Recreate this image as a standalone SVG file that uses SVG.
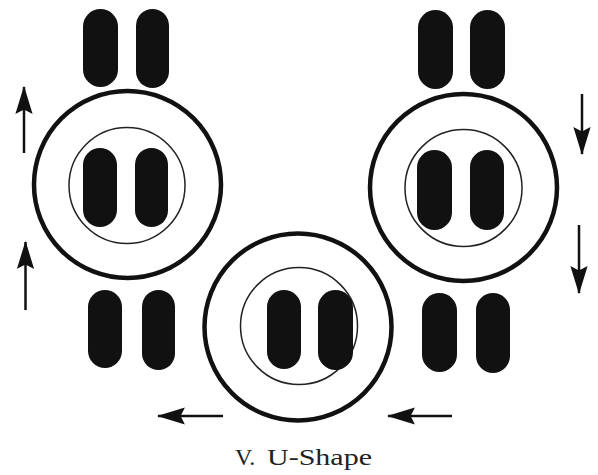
<svg xmlns="http://www.w3.org/2000/svg" width="598" height="475" viewBox="0 0 598 475">
<style>
.outer{fill:none;stroke:#111;stroke-width:4.5}
.inner{fill:none;stroke:#222;stroke-width:1.5}
.pill{fill:#111}
.arr{stroke:#111;stroke-width:2.5;fill:none}
.lbl{font-family:"Liberation Serif","DejaVu Serif",serif;font-size:24px;fill:#222}
</style>
<defs>
<marker id="ah" markerUnits="userSpaceOnUse" markerWidth="28" markerHeight="18" viewBox="0 0 26 16" refX="25" refY="8" orient="auto">
<path d="M0,0 L26,8 L0,16 L4,8 Z" fill="#111"/>
</marker>
</defs>
<rect width="598" height="475" fill="#fff"/>
<g id="circle-left">
<circle class="outer" cx="127.5" cy="184.5" r="93.5"/>
<circle class="inner" cx="127" cy="185.5" r="58"/>
<rect class="pill" x="83" y="148" width="34" height="79" rx="17"/>
<rect class="pill" x="135" y="148" width="33" height="79" rx="16.5"/>
</g>
<g id="circle-right">
<circle class="outer" cx="463.5" cy="187.5" r="93.5"/>
<circle class="inner" cx="463.5" cy="188" r="58.5"/>
<rect class="pill" x="417" y="150" width="35" height="80" rx="17.5"/>
<rect class="pill" x="470" y="150" width="34" height="80" rx="17"/>
</g>
<g id="circle-bottom">
<circle class="outer" cx="298" cy="327" r="93.5"/>
<circle class="inner" cx="299" cy="326" r="58.5"/>
<rect class="pill" x="267" y="290" width="34" height="79" rx="17"/>
<rect class="pill" x="318" y="290" width="35" height="80" rx="17.5"/>
</g>
<g id="pills-top-left">
<rect class="pill" x="83" y="9" width="35" height="78" rx="17.5"/>
<rect class="pill" x="136" y="9" width="33" height="79" rx="16.5"/>
</g>
<g id="pills-top-right">
<rect class="pill" x="418" y="10" width="35" height="79" rx="17.5"/>
<rect class="pill" x="470" y="10" width="35" height="79" rx="17.5"/>
</g>
<g id="pills-bottom-left">
<rect class="pill" x="88" y="290" width="34" height="78" rx="17"/>
<rect class="pill" x="142" y="290" width="33" height="80" rx="16.5"/>
</g>
<g id="pills-bottom-right">
<rect class="pill" x="422" y="293" width="35" height="79" rx="17.5"/>
<rect class="pill" x="476" y="293" width="34" height="80" rx="17"/>
</g>
<g id="connectors">
<line class="arr" x1="24" y1="153" x2="24" y2="87" marker-end="url(#ah)"/>
<line class="arr" x1="25.5" y1="310" x2="25.5" y2="242" marker-end="url(#ah)"/>
<line class="arr" x1="582" y1="94" x2="582" y2="154" marker-end="url(#ah)"/>
<line class="arr" x1="579" y1="225" x2="579" y2="293" marker-end="url(#ah)"/>
<line class="arr" x1="223" y1="416" x2="158" y2="416" marker-end="url(#ah)"/>
<line class="arr" x1="452" y1="416" x2="388" y2="416" marker-end="url(#ah)"/>
</g>
<text class="lbl" x="235" y="465">V.<tspan x="267" textLength="105" lengthAdjust="spacingAndGlyphs">U-Shape</tspan></text>
</svg>
